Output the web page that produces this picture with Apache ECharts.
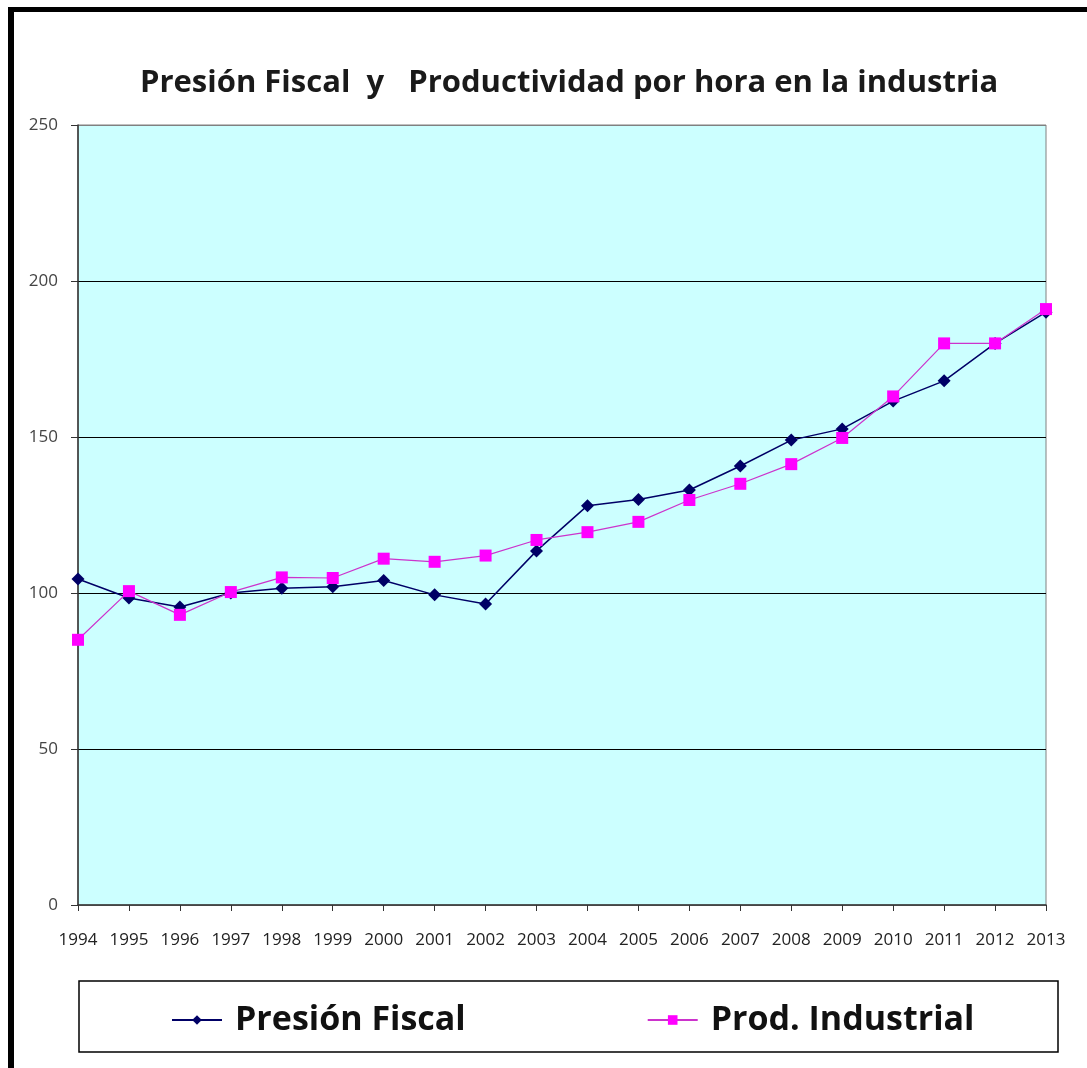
<!DOCTYPE html>
<html>
<head>
<meta charset="utf-8">
<script src="https://cdn.jsdelivr.net/npm/echarts@6/dist/echarts.min.js"></script>
<style>
  html, body { margin: 0; padding: 0; background: #fff; }
  #chart { width: 1087px; height: 1068px; }
</style>
</head>
<body>
<div id="chart"></div>
<script>
// datos
const years = ['1994', '1995', '1996', '1997', '1998', '1999', '2000', '2001', '2002', '2003',
               '2004', '2005', '2006', '2007', '2008', '2009', '2010', '2011', '2012', '2013'];
const presionFiscal = [104.5, 98.4, 95.5, 100, 101.5, 102, 104, 99.4, 96.5, 113.5,
                       128, 130, 133, 140.7, 149, 152.6, 161.5, 168, 180, 190];
const prodIndustrial = [85, 100.6, 93, 100.3, 105, 104.8, 111, 110, 112, 117,
                        119.5, 122.8, 129.8, 135, 141.3, 149.7, 163, 180, 180, 191];
const yTicks = { min: 0, max: 250, interval: 50 };

const chart = echarts.init(document.getElementById('chart'));

const font = "'Open Sans', 'DejaVu Sans', sans-serif";

const option = {
    backgroundColor: '#ffffff',
    animation: false,
    title: {
        text: 'Presión Fiscal  y   Productividad por hora en la industria',
        left: 135,
        top: 63,
        textStyle: { fontFamily: font, fontSize: 31, fontWeight: 'bold', color: '#1a1a1a' }
    },
    grid: {
        left: 78, right: 41, top: 125, bottom: 163,
        show: true,
        backgroundColor: '#ccffff',
        borderColor: '#808080',
        borderWidth: 1
    },
    legend: {
        bottom: 26,
        left: 166,
        itemGap: 181,
        itemWidth: 50,
        itemHeight: 12,
        textStyle: { fontFamily: font, fontSize: 34, fontWeight: 'bold', color: '#111', padding: [0, 0, 0, 8] },
        data: ['Presión Fiscal', 'Prod. Industrial']
    },
    graphic: [
        // marco negro del original
        { type: 'rect', shape: { x: 8, y: 7, width: 6, height: 1061 }, style: { fill: '#000' } },
        { type: 'rect', shape: { x: 8, y: 7, width: 1079, height: 5 }, style: { fill: '#000' } },
        // recuadro de la leyenda
        { type: 'rect', shape: { x: 79, y: 981, width: 979, height: 71 },
          style: { fill: 'none', stroke: '#000', lineWidth: 1.5 }, z: -1 }
    ],
    xAxis: {
        type: 'category',
        data: years,
        boundaryGap: false,
        axisLine: { lineStyle: { color: '#333', width: 1.5 } },
        axisTick: { show: true, length: 6, lineStyle: { color: '#333' } },
        axisLabel: { fontFamily: font, fontSize: 17, color: '#222', margin: 27, interval: 0 },
        splitLine: { show: false }
    },
    yAxis: {
        type: 'value',
        min: yTicks.min,
        max: yTicks.max,
        interval: yTicks.interval,
        axisLine: { show: true, lineStyle: { color: '#333', width: 1.5 } },
        axisTick: { show: true, length: 7, lineStyle: { color: '#333' } },
        axisLabel: { fontFamily: font, fontSize: 17, color: '#444', margin: 20 },
        splitLine: {
            show: true,
            lineStyle: { color: ['#808080', '#000', '#000', '#000', '#000', '#808080'], width: 1.2 }
        }
    },
    series: [
        {
            name: 'Presión Fiscal',
            type: 'line',
            data: presionFiscal,
            symbol: 'diamond',
            symbolSize: 13,
            itemStyle: { color: '#000066' },
            lineStyle: { color: '#000066', width: 1.5 },
            z: 3
        },
        {
            name: 'Prod. Industrial',
            type: 'line',
            data: prodIndustrial,
            symbol: 'rect',
            symbolSize: 12,
            itemStyle: { color: '#ff00ff' },
            lineStyle: { color: '#cc33cc', width: 1.2 },
            z: 4
        }
    ]
};

chart.setOption(option);
</script>
</body>
</html>
